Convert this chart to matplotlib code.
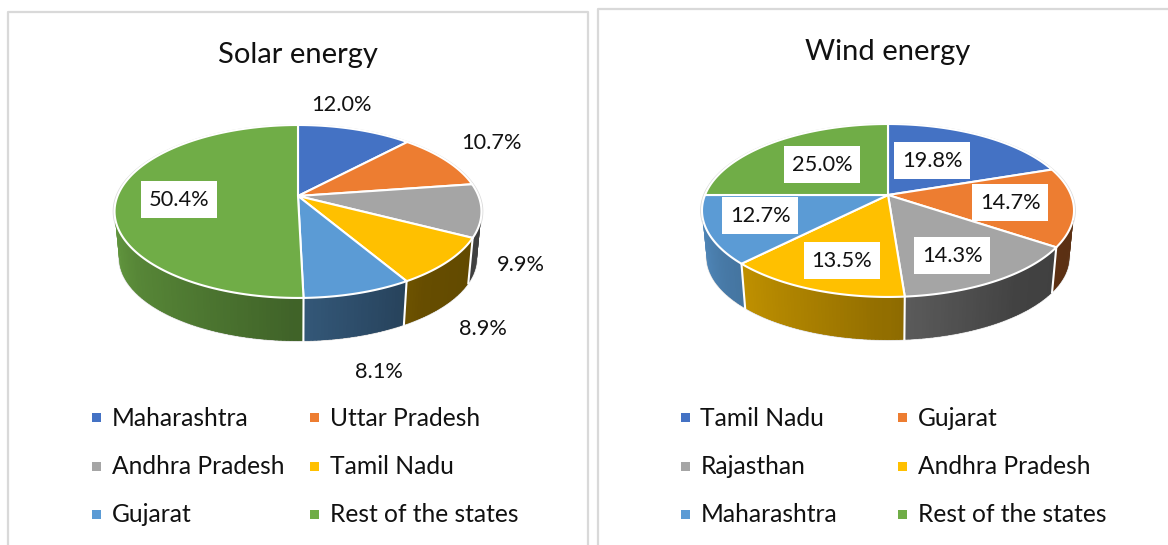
# Solar and wind energy shares by state, two 3D looking pies
import numpy as np
import matplotlib
matplotlib.use('Agg')
import matplotlib.pyplot as plt
from matplotlib.patches import Rectangle, Polygon

plt.rcParams['font.family'] = ['Lato', 'DejaVu Sans']

# data
solar_states = ['Maharashtra', 'Uttar Pradesh', 'Andhra Pradesh', 'Tamil Nadu', 'Gujarat', 'Rest of the states']
solar_values = [12.0, 10.7, 9.9, 8.9, 8.1, 50.4]
wind_states = ['Tamil Nadu', 'Gujarat', 'Rajasthan', 'Andhra Pradesh', 'Maharashtra', 'Rest of the states']
wind_values = [19.8, 14.7, 14.3, 13.5, 12.7, 25.0]
colors = ['#4472C4', '#ED7D31', '#A5A5A5', '#FFC000', '#5B9BD5', '#70AD47']

# layout, in pixels of the picture
solar_labels_xy = [(341, 105), (491, 143), (521, 265), (483, 329), (379, 372), (179, 200)]
solar_boxed = [False, False, False, False, False, True]
wind_labels_xy = [(932, 161), (1010, 203), (952, 256), (842, 261), (760, 216), (822, 165)]
wind_boxed = [True] * 6
legend_rows = [418, 467, 515]

# perspective of the disk
A = 83.7
K = 0.179


def project(theta, cx, cy, r, lower=False):
    u = np.sin(theta)
    v = np.cos(theta)
    w = 1 + K * v
    x = r * u / w
    y = A * v / w
    if lower:
        return cx + x * 0.975, cy - y * 0.96 + 47
    return cx + x, cy - y


def shade(rel_x):
    # wall light goes from left to right
    return np.interp(rel_x, [-1, -0.8, 0, 0.6, 1], [0.88, 0.78, 0.57, 0.40, 0.38])


def draw_pie(ax, values, cx, cy, r):
    edges = np.cumsum([0] + list(values)) / sum(values) * 2 * np.pi

    # outline behind the whole shape
    th = np.linspace(0, 2 * np.pi, 361)
    ax.plot(*project(th, cx, cy, r, lower=True), color='#d9d9d9', lw=1.2, zorder=1)
    ax.plot(*project(th, cx, cy, r + 1), color='#d9d9d9', lw=1.2, zorder=1)

    # side walls, back to front. each piece overlaps the next one so no seams show
    quads = []
    for i, c in enumerate(colors):
        steps = max(int(np.degrees(edges[i + 1] - edges[i])), 2)
        th = np.linspace(edges[i], edges[i + 1], steps + 1)
        for a, b in zip(th[:-1], th[1:]):
            quads.append((np.cos((a + b) / 2), a, b, c, edges[i], edges[i + 1]))
    for _, a, b, c, lo, hi in sorted(quads, key=lambda q: -q[0]):
        f = shade(np.sin((a + b) / 2))
        col = tuple(np.array(matplotlib.colors.to_rgb(c)) * f)
        a2 = max(a - 0.012, lo)
        b2 = min(b + 0.012, hi)
        xa, ya = project(a2, cx, cy, r)
        xb, yb = project(b2, cx, cy, r)
        xc, yc = project(b2, cx, cy, r, lower=True)
        xd, yd = project(a2, cx, cy, r, lower=True)
        ax.add_patch(Polygon([(xa, ya), (xb, yb), (xc, yc), (xd, yd)], closed=True,
                             facecolor=col, edgecolor='none', zorder=2))

    # white lines between the walls
    for e in edges:
        if np.cos(e) < -0.05:
            x0, y0 = project(e, cx, cy, r)
            x1, y1 = project(e, cx, cy, r, lower=True)
            ax.plot([x0, x1], [y0, y1], color='white', lw=1.5, zorder=3)

    # top of the pie
    for i, c in enumerate(colors):
        th = np.linspace(edges[i], edges[i + 1], 120)
        x, y = project(th, cx, cy, r)
        pts = [(cx, cy)] + list(zip(x, y))
        ax.add_patch(Polygon(pts, closed=True, facecolor=c, edgecolor='white', lw=1.5,
                             joinstyle='round', zorder=4))


def draw_labels(ax, values, xy, boxed):
    for v, (x, y), b in zip(values, xy, boxed):
        if b:
            ax.add_patch(Rectangle((x - 38, y - 19.5), 76, 37, facecolor='white', edgecolor='none', zorder=5))
        ax.text(x, y, f'{v:.1f}%', ha='center', va='center', fontsize=15.7, color='#111111', zorder=6)


def draw_legend(ax, states, x_cols):
    for i, s in enumerate(states):
        x = x_cols[i % 2]
        y = legend_rows[i // 2]
        ax.add_patch(Rectangle((x, y - 5.5), 9, 9, facecolor=colors[i], edgecolor='none'))
        ax.text(x + 19.5, y, s, ha='left', va='center', fontsize=17.7, color='#111111')


fig = plt.figure(figsize=(11.68, 5.45), dpi=100)
ax = fig.add_axes([0, 0, 1, 1])
ax.set_xlim(0, 1168)
ax.set_ylim(545, 0)
ax.axis('off')

# chart frames run off the picture
ax.plot([8, 8, 588, 588], [547, 12, 12, 547], color='#d9d9d9', lw=1.6)
ax.plot([598, 598, 1170], [547, 9, 9], color='#d9d9d9', lw=1.6)

ax.text(298, 55, 'Solar energy', ha='center', va='center', fontsize=21, color='#111111')
draw_pie(ax, solar_values, 298, 196, 180.5)
draw_labels(ax, solar_values, solar_labels_xy, solar_boxed)
draw_legend(ax, solar_states, [92, 310])

ax.text(888, 52, 'Wind energy', ha='center', va='center', fontsize=21, color='#111111')
draw_pie(ax, wind_values, 888, 195, 183)
draw_labels(ax, wind_values, wind_labels_xy, wind_boxed)
draw_legend(ax, wind_states, [681, 898])

plt.savefig('out.png', dpi=100)
